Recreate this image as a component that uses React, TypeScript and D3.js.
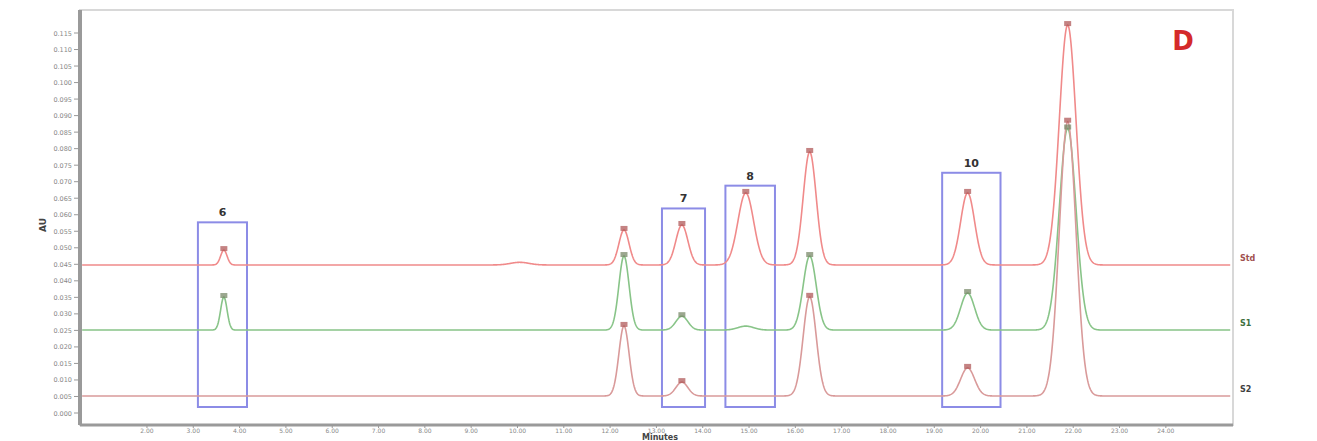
import React from "react";
import * as d3 from "d3";

// ---- data ----
const peakTimes = [3.66, 10.05, 12.3, 13.55, 14.93, 16.31, 19.72, 21.88];
const peakWidths = [0.07, 0.2, 0.11, 0.13, 0.17, 0.14, 0.15, 0.18];
const redHeights = [0.0045, 0.0008, 0.0106, 0.0121, 0.0218, 0.0342, 0.0218, 0.0726];
const greenHeights = [0.01, 0.0, 0.0224, 0.0042, 0.0012, 0.0224, 0.0112, 0.061];
const brownHeights = [0.0, 0.0, 0.0212, 0.0042, 0.0, 0.03, 0.0085, 0.083];
const traceOffsets = [0.0448, 0.0251, 0.00515];
const traceNames = ["Std", "S1", "S2"];
const traceColors = ["#f08a8a", "#88c488", "#d99a9a"];
const labelColors = ["#a05050", "#407040", "#404040"];
const boxStarts = [3.1, 13.12, 14.49, 19.17];
const boxEnds = [4.16, 14.05, 15.56, 20.43];
const boxTops = [0.0577, 0.0619, 0.0688, 0.0727];
const boxLabels = ["6", "7", "8", "10"];
const xTicks = d3.range(2, 25, 1);
const yTicks = d3.range(0, 0.1151, 0.005);

const W = 1317, H = 441;
const L = 80, R = 1233, T = 10, B = 425;

export default function App() {
  const x = d3.scaleLinear().domain([0.554, 25.45]).range([L, R]);
  const y = d3.scaleLinear().domain([0, 0.115]).range([413, 33]);
  const samples = d3.range(0.6, 25.4, 0.01);
  const heightsList = [redHeights, greenHeights, brownHeights];
  const line = d3
    .line<[number, number]>()
    .x((d) => x(d[0]))
    .y((d) => y(d[1]))
    .curve(d3.curveLinear);

  const traces = heightsList.map((hs, k) =>
    samples.map((t) => {
      let v = traceOffsets[k];
      peakTimes.forEach((p, i) => {
        const s = peakWidths[i];
        v += hs[i] * Math.exp(-((t - p) * (t - p)) / (2 * s * s));
      });
      return [t, v] as [number, number];
    })
  );

  return (
    <svg width={W} height={H} style={{ position: "absolute", left: 0, top: 0, background: "#fff" }}>
      {/* frame */}
      <rect x={L} y={T} width={R - L} height={B - T} fill="none" stroke="#d8d8d8" strokeWidth={2} />
      {/* boxes */}
      {boxStarts.map((b, i) => (
        <g key={"box" + i}>
          <rect
            x={x(b)}
            y={y(boxTops[i])}
            width={x(boxEnds[i]) - x(b)}
            height={407 - y(boxTops[i])}
            fill="none"
            stroke="#8c8ce6"
            strokeWidth={2}
          />
          <text
            x={(x(b) + x(boxEnds[i])) / 2}
            y={y(boxTops[i]) - 6}
            textAnchor="middle"
            fontFamily="DejaVu Sans, sans-serif"
            fontWeight="bold"
            fontSize={11}
            fill="#333"
          >
            {boxLabels[i]}
          </text>
        </g>
      ))}
      {/* traces */}
      {traces.map((tr, k) => (
        <path key={"tr" + k} d={line(tr) || ""} fill="none" stroke={traceColors[k]} strokeWidth={1.6} />
      ))}
      {/* peak markers */}
      {heightsList.map((hs, k) =>
        peakTimes.map((p, i) =>
          hs[i] > 0.003 ? (
            <rect
              key={"m" + k + "-" + i}
              x={x(p) - 3.5}
              y={y(traceOffsets[k] + hs[i]) - 4}
              width={7}
              height={5}
              fill={k === 1 ? "#7a8a6a" : "#b05a5a"}
              opacity={0.75}
            />
          ) : null
        )
      )}
      {/* trace names */}
      {traceOffsets.map((o, k) => (
        <text
          key={"tn" + k}
          x={1240}
          y={y(o) - 4}
          fontFamily="DejaVu Sans, sans-serif"
          fontSize={8}
          fontWeight="bold"
          fill={labelColors[k]}
        >
          {traceNames[k]}
        </text>
      ))}
      {/* axes */}
      <line x1={L} y1={T} x2={L} y2={B} stroke="#9a9a9a" strokeWidth={4} />
      <line x1={L} y1={B} x2={R} y2={B} stroke="#9a9a9a" strokeWidth={3} />
      {yTicks.map((v, i) => (
        <g key={"yt" + i}>
          <line x1={L - 6} x2={L} y1={y(v)} y2={y(v)} stroke="#999" strokeWidth={1} />
          <text
            x={L - 8}
            y={y(v) + 2.5}
            textAnchor="end"
            fontFamily="DejaVu Sans, sans-serif"
            fontSize={6.5}
            fill="#888"
          >
            {v.toFixed(3)}
          </text>
        </g>
      ))}
      {xTicks.map((v, i) => (
        <g key={"xt" + i}>
          <line x1={x(v)} x2={x(v)} y1={B} y2={B + 3} stroke="#999" strokeWidth={1} />
          <text
            x={x(v)}
            y={B + 8}
            textAnchor="middle"
            fontFamily="DejaVu Sans, sans-serif"
            fontSize={6}
            fill="#888"
          >
            {v.toFixed(2)}
          </text>
        </g>
      ))}
      <text
        x={46}
        y={225}
        transform="rotate(-90 46 225)"
        textAnchor="middle"
        fontFamily="DejaVu Sans, sans-serif"
        fontWeight="bold"
        fontSize={9}
        fill="#444"
      >
        AU
      </text>
      <text
        x={660}
        y={440}
        textAnchor="middle"
        fontFamily="DejaVu Sans, sans-serif"
        fontWeight="bold"
        fontSize={8}
        fill="#444"
      >
        Minutes
      </text>
      <text
        x={1183}
        y={50}
        textAnchor="middle"
        fontFamily="DejaVu Sans, sans-serif"
        fontWeight="bold"
        fontSize={26}
        fill="#d42a2a"
      >
        D
      </text>
    </svg>
  );
}
